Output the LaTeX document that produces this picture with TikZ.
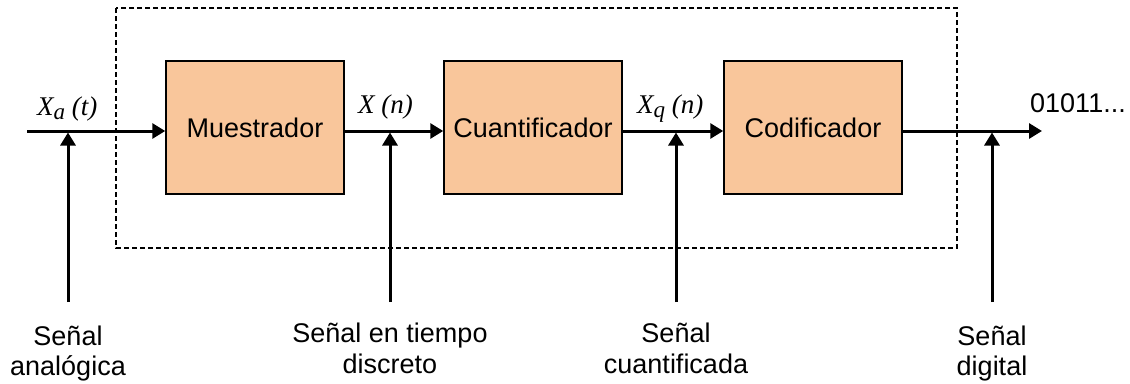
\documentclass[tikz,border=0pt]{standalone}
\usepackage{fontspec}
\setmainfont{Liberation Sans}
\newfontfamily\serifit{Liberation Serif}
\usetikzlibrary{arrows.meta}
\definecolor{boxfill}{HTML}{F9C69B}
\begin{document}
\begin{tikzpicture}[x=1pt,y=-1pt,
 blk/.style={draw=black,line width=1.5pt,fill=boxfill,minimum width=178pt,minimum height=133pt,inner sep=0pt,font=\fontsize{27}{31}\selectfont},
 sig/.style={line width=3pt,-{Triangle[length=13pt,width=15pt]}},
 lbl/.style={font=\fontsize{27}{31}\selectfont,align=center,anchor=base,inner sep=0pt},
 mlbl/.style={font=\serifit\itshape\fontsize{27}{30}\selectfont,anchor=base west,inner sep=0pt},
 outlbl/.style={font=\fontsize{27}{31}\selectfont,anchor=base west,inner sep=0pt}]
\useasboundingbox (0,0) rectangle (1130,383);
\draw[line width=1.7pt,dash pattern=on 5pt off 3pt] (116,8) rectangle (957,248);
\node[blk] (mue) at (255,127.5) {Muestrador};
\node[blk] (cua) at (533,127.5) {Cuantificador};
\node[blk] (cod) at (813,127.5) {Codificador};
\coordinate (in) at (27,131);
\coordinate (out) at (1042,131);
\draw[sig] (in) -- (in -| mue.west);
\draw[sig] (in -| mue.east) -- (in -| cua.west);
\draw[sig] (in -| cua.east) -- (in -| cod.west);
\draw[sig] (in -| cod.east) -- (out);
\coordinate (sa) at (68,302);
\coordinate (sd) at (390,302);
\coordinate (sq) at (676,302);
\coordinate (sg) at (992,302);
\foreach \c in {sa,sd,sq,sg}{
  \draw[sig] (\c) -- ([yshift=-1.5pt]\c |- in);
}
\node[mlbl] (lxa) at (37,115) {X\raisebox{-4pt}{\fontsize{23}{23}\selectfont a} (t)};
\node[mlbl] (lxn) at (358,113) {X (n)};
\node[mlbl] (lxq) at (637,113) {X\raisebox{-4pt}{\fontsize{23}{23}\selectfont q} (n)};
\node[outlbl] (lbits) at (1030,112) {01011...};
\node[lbl] (la) at (68,345) {Señal};
\node[lbl] (la2) at (68,375) {analógica};
\node[lbl] (ld) at (390,342) {Señal en tiempo};
\node[lbl] (ld2) at (390,373) {discreto};
\node[lbl] (lq) at (676,342) {Señal};
\node[lbl] (lq2) at (676,373) {cuantificada};
\node[lbl] (lg) at (992,345) {Señal};
\node[lbl] (lg2) at (992,375) {digital};
\end{tikzpicture}
\end{document}
